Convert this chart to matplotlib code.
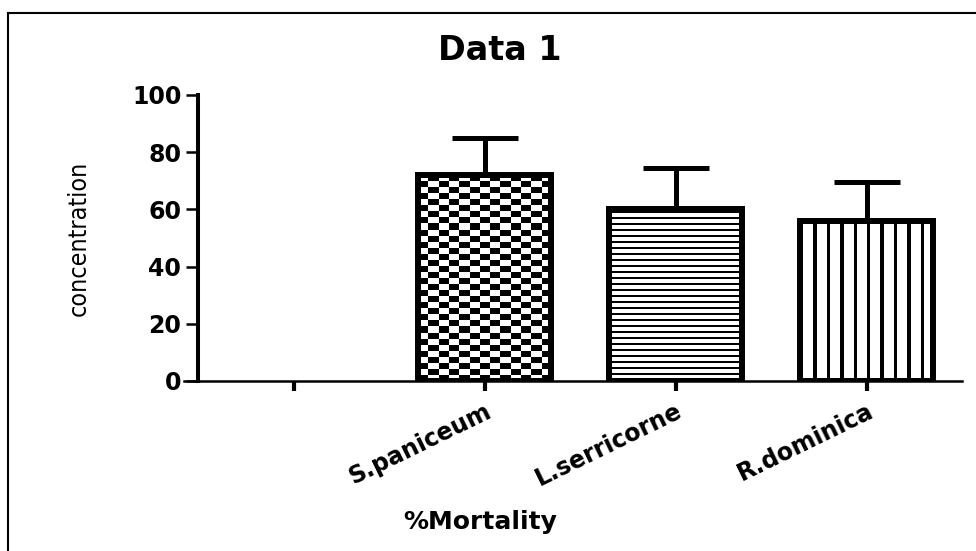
import numpy as np
import matplotlib
matplotlib.use("Agg")
import matplotlib.pyplot as plt
from matplotlib.lines import Line2D

# -------- DATA --------
categories = ["", "S.paniceum", "L.serricorne", "R.dominica"]
means = [72, 60, 56]
errors = [13, 14.5, 13.5]
patterns = ["checker", "hlines", "vlines"]
yticks = [0, 20, 40, 60, 80, 100]

plt.rcParams["font.family"] = ["DejaVu Sans"]

fig = plt.figure(figsize=(9.76, 5.51), dpi=100)
W, H = 976, 551
ax = fig.add_axes([198 / W, 170 / H, 764 / W, 286 / H])

xpos = np.arange(1, len(categories))
bar_w = 0.7
bars = ax.bar(xpos, means, width=bar_w, facecolor="none", edgecolor="black",
              linewidth=4.3, zorder=3)

# px per data unit (for pattern sizes)
px_x = 764 / 4.0
px_y = 286 / 100.0

# -------- FILL PATTERNS --------
for rect, h, pat in zip(bars, means, patterns):
    x0 = rect.get_x()
    w = rect.get_width()
    hp = h * px_y
    wp = w * px_x
    if pat == "checker":
        nc = int(round(wp / 10))
        nr = int(round(hp / 6))
        img = (np.add.outer(np.arange(nr), np.arange(nc)) % 2).astype(float)
    elif pat == "hlines":
        nr = int(round(hp / 2))
        img = np.ones((nr, 1))
        img[np.arange(nr) % 3 == 0] = 0
    else:
        nc = 40
        img = np.ones((1, nc))
        img[0, np.arange(nc) % 4 == 0] = 0
    im = ax.imshow(img, cmap="gray", vmin=0, vmax=1, interpolation="nearest",
                   extent=(x0, x0 + w, 0, h), origin="lower", aspect="auto",
                   zorder=2)
    im.set_clip_path(rect)

# -------- ERROR BARS (upper only) --------
ax.errorbar(xpos, means, yerr=[np.zeros(len(errors)), errors], fmt="none",
            ecolor="black", elinewidth=3.6, capsize=24, capthick=3.6, zorder=4)

ax.set_xlim(-0.5, 3.5)
ax.set_ylim(0, 100)
ax.set_xticks(np.arange(len(categories)))
ax.set_xticklabels(categories, rotation=26, ha="right", va="top",
                   rotation_mode="anchor", fontsize=17, fontweight="bold")
ax.set_yticks(yticks)
ax.set_yticklabels([str(v) for v in yticks], fontsize=17, fontweight="bold")

for s in ["top", "right", "bottom"]:
    ax.spines[s].set_visible(False)
ax.spines["left"].set_linewidth(2.9)
ax.tick_params(axis="y", length=9, width=1.8, pad=3)
ax.tick_params(axis="x", length=7, width=3, pad=6)

# x axis line extending a bit left of the y axis
ax.plot([-0.018, 1], [0, 0], transform=ax.transAxes, color="black",
        linewidth=1.8, clip_on=False, zorder=5)

ax.set_ylabel("concentration", family="DejaVu Sans", stretch="condensed",
              fontsize=18)
ax.yaxis.set_label_coords(-0.14, 0.5)
ax.set_xlabel("%Mortality", fontsize=18, fontweight="bold")
ax.xaxis.set_label_coords(0.37, -0.45)

fig.text(500 / W, 1 - 51 / H, "Data 1", ha="center", va="center",
         fontsize=24, fontweight="bold")

# figure frame (top and left)
fig.add_artist(Line2D([8 / W, 1], [1 - 13 / H, 1 - 13 / H], color="black",
                      linewidth=1.5, transform=fig.transFigure))
fig.add_artist(Line2D([8 / W, 8 / W], [0, 1 - 13 / H], color="black",
                      linewidth=1.5, transform=fig.transFigure))

fig.savefig("out.png", dpi=100)
